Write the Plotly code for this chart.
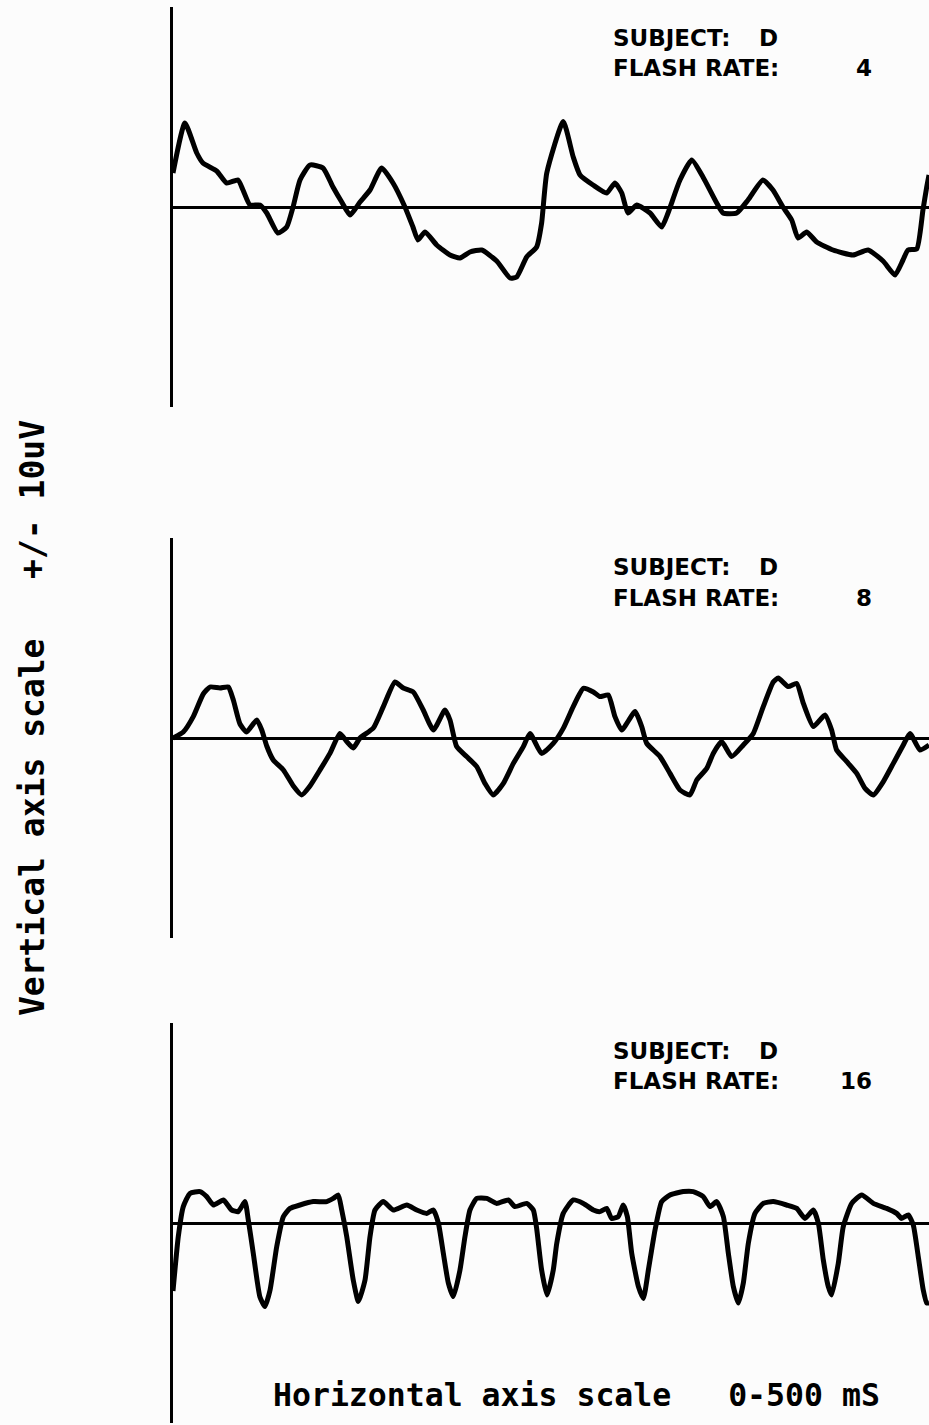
import plotly.graph_objects as go
from plotly.subplots import make_subplots

# ---------------- data (time in ms, amplitude in uV) ----------------
t_4hz = [0, 7.9, 15.7, 19.8, 28.9, 35.5, 43.0, 46.3, 50.9, 57.5, 62.0, 69.4, 75.2, 79.4,
         84.0, 90.6, 99.2, 105.8, 111.6, 117.1, 123.7, 130.3, 138.0, 145.5, 153.4, 158.7,
         162.0, 166.7, 174.4, 183.2, 189.8, 196.4, 204.2, 214.1, 222.9, 227.3, 233.9, 240.5,
         243.8, 247.2, 258.1, 264.7, 269.2, 277.8, 286.8, 292.3, 296.8, 300.9, 306.7, 315.5,
         323.2, 327.4, 335.3, 343.1, 350.5, 359.6, 363.8, 372.8, 380.3, 390.2, 396.8, 403.4,
         409.2, 413.4, 419.1, 425.7, 436.5, 449.7, 459.7, 469.6, 477.5, 482.8, 486.1, 491.9,
         496.0, 498.5, 500]
v_4hz = [1.7, 4.2, 2.7, 2.2, 1.8, 1.2, 1.35, 0.85, 0.1, 0.1, -0.3, -1.3, -1.0, 0.0,
         1.35, 2.1, 1.95, 1.0, 0.25, -0.4, 0.25, 0.85, 1.95, 1.2, 0.0, -1.0,
         -1.65, -1.25, -1.9, -2.4, -2.55, -2.25, -2.15, -2.7, -3.55, -3.5, -2.5, -2.0,
         -0.8, 1.7, 4.27, 2.5, 1.6, 1.1, 0.7, 1.2, 0.7, -0.3, 0.1, -0.3,
         -1.0, -0.3, 1.35, 2.35, 1.5, 0.2, -0.3, -0.3, 0.35, 1.35, 0.85, 0.0,
         -0.65, -1.55, -1.25, -1.75, -2.15, -2.4, -2.15, -2.7, -3.4, -2.65, -2.15, -2.1,
         -0.15, 1.0, 1.6]

t_8hz = [0, 6.8, 13.4, 20.0, 24.5, 31.1, 36.6, 39.9, 44.3, 48.7, 55.4, 58.7, 62.0, 66.3,
         73.0, 79.6, 85.1, 90.6, 97.2, 103.8, 110.4, 114.9, 119.2, 123.7, 132.5, 139.1,
         146.8, 152.3, 158.9, 165.5, 172.2, 179.9, 183.2, 187.6, 194.2, 200.9, 206.3, 211.8,
         218.5, 225.1, 231.7, 236.1, 243.8, 251.5, 258.1, 264.7, 271.4, 278.0, 282.4, 287.9,
         292.3, 296.8, 305.6, 310.0, 313.3, 322.1, 328.7, 335.3, 341.9, 346.4, 353.0, 357.3,
         362.9, 369.5, 377.2, 383.8, 390.4, 397.0, 400.3, 406.9, 412.5, 416.9, 423.5, 431.2,
         435.6, 438.9, 445.6, 452.2, 457.7, 463.2, 469.8, 476.4, 483.0, 487.4, 494.0, 500]
v_8hz = [0.0, 0.3, 1.07, 2.2, 2.55, 2.5, 2.55, 1.9, 0.7, 0.3, 0.9, 0.4, -0.4, -1.1,
         -1.6, -2.4, -2.85, -2.4, -1.6, -0.77, 0.23, -0.18, -0.5, 0.0, 0.5, 1.57,
         2.8, 2.5, 2.3, 1.4, 0.4, 1.4, 0.9, -0.43, -0.93, -1.43, -2.27, -2.85,
         -2.27, -1.27, -0.43, 0.23, -0.77, -0.27, 0.48, 1.57, 2.48, 2.3, 2.07, 2.15,
         1.07, 0.4, 1.32, 0.57, -0.27, -0.93, -1.77, -2.6, -2.85, -2.1, -1.52, -0.77,
         -0.18, -0.93, -0.35, 0.23, 1.57, 2.8, 3.0, 2.57, 2.73, 1.73, 0.57, 1.15,
         0.4, -0.6, -1.18, -1.77, -2.52, -2.85, -2.18, -1.27, -0.35, 0.23, -0.6, -0.35]

t_16hz = [0, 3.5, 6.8, 11.2, 17.9, 22.3, 26.7, 33.3, 38.8, 43.2, 47.6, 49.8, 53.1, 57.5,
          60.8, 64.2, 68.6, 73.0, 77.4, 84.0, 92.8, 101.7, 106.0, 109.3, 111.6, 114.9,
          119.2, 122.6, 127.0, 130.3, 133.6, 139.1, 145.7, 154.6, 161.2, 167.8, 172.2, 175.5,
          178.8, 182.1, 185.4, 189.8, 193.1, 196.4, 200.9, 207.5, 214.1, 221.8, 226.2, 233.9,
          238.3, 240.5, 243.8, 247.4, 251.5, 253.8, 258.1, 264.7, 271.4, 278.0, 282.4, 286.8,
          290.1, 294.5, 297.8, 300.5, 303.4, 307.8, 311.1, 314.4, 318.8, 323.2, 328.7, 337.5,
          344.1, 350.7, 355.2, 359.6, 364.0, 367.3, 370.6, 373.9, 377.2, 380.5, 384.9, 390.4,
          397.0, 405.8, 412.5, 418.0, 423.5, 426.8, 430.1, 433.4, 435.6, 440.0, 443.3, 448.9,
          455.5, 463.2, 472.0, 478.6, 481.9, 486.3, 489.6, 492.9, 496.2, 498.5, 500]
v_16hz = [-3.4, -0.68, 0.82, 1.48, 1.57, 1.32, 0.9, 1.15, 0.65, 0.57, 1.07, 0.15, -1.52, -3.7,
          -4.18, -3.35, -1.18, 0.32, 0.73, 0.9, 1.07, 1.07, 1.23, 1.4, 0.65, -0.68,
          -2.85, -3.93, -2.85, -0.68, 0.65, 1.07, 0.65, 0.9, 0.65, 0.48, 0.65, 0.0,
          -1.52, -3.0, -3.68, -2.35, -0.68, 0.65, 1.23, 1.23, 0.98, 1.15, 0.82, 0.98,
          0.65, -0.27, -2.35, -3.6, -2.35, -1.02, 0.48, 1.15, 0.98, 0.65, 0.57, 0.73,
          0.23, 0.32, 0.9, 0.32, -1.52, -3.18, -3.77, -2.35, -0.35, 1.07, 1.4, 1.57,
          1.57, 1.32, 0.82, 1.07, 0.32, -1.52, -3.18, -4.0, -3.0, -1.02, 0.48, 0.98,
          1.07, 0.9, 0.73, 0.23, 0.65, 0.0, -1.85, -3.18, -3.6, -2.02, -0.18, 0.98,
          1.4, 0.98, 0.73, 0.48, 0.23, 0.4, -0.1, -1.68, -3.35, -4.0, -4.0]

subject = "D"
flash_rates = ["4", "8", "16"]
series_t = [t_4hz, t_8hz, t_16hz]
series_v = [v_4hz, v_8hz, v_16hz]

# ---------------- layout helpers ----------------
W, H = 929, 1425
BG = "#fcfcfc"
# panel extents in pixels (top, bottom) of the vertical axis line
panels_px = [(7, 407), (538, 938), (1023, 1423)]
x_left_px = 173


def py(p):
    return (H - p) / H


def px(p):
    return p / W


fig = make_subplots(rows=3, cols=1)

for i, (t, v) in enumerate(zip(series_t, series_v)):
    fig.add_trace(
        go.Scatter(x=t, y=v, mode="lines",
                   line=dict(color="black", width=5, shape="spline", smoothing=0.5),
                   hoverinfo="skip", showlegend=False),
        row=i + 1, col=1)

for i, (top, bot) in enumerate(panels_px):
    xa = "xaxis" if i == 0 else f"xaxis{i+1}"
    ya = "yaxis" if i == 0 else f"yaxis{i+1}"
    fig.layout[xa].update(domain=[px(x_left_px), 1], range=[0, 500], showgrid=False,
                          zeroline=False, showline=False, showticklabels=False, ticks="")
    fig.layout[ya].update(domain=[py(bot), py(top)], range=[-10, 10], showgrid=False,
                          zeroline=True, zerolinecolor="black", zerolinewidth=3,
                          showline=True, linecolor="black", linewidth=3,
                          showticklabels=False, ticks="")

# panel labels
label_rows = [(38, 68), (567, 598), (1051, 1081)]
lab_font = dict(family="DejaVu Sans", size=23, color="black", weight="bold")
for (y1, y2), rate in zip(label_rows, flash_rates):
    fig.add_annotation(x=px(611), y=py(y1), xref="paper", yref="paper", text="SUBJECT:",
                       showarrow=False, xanchor="left", yanchor="middle", font=lab_font)
    fig.add_annotation(x=px(757), y=py(y1), xref="paper", yref="paper", text=subject,
                       showarrow=False, xanchor="left", yanchor="middle", font=lab_font)
    fig.add_annotation(x=px(611), y=py(y2), xref="paper", yref="paper", text="FLASH RATE:",
                       showarrow=False, xanchor="left", yanchor="middle", font=lab_font)
    fig.add_annotation(x=px(874), y=py(y2), xref="paper", yref="paper", text=rate,
                       showarrow=False, xanchor="right", yanchor="middle", font=lab_font)

fig.add_annotation(x=px(32), y=py(718), xref="paper", yref="paper",
                   text="Vertical axis scale\u00a0\u00a0\u00a0+/- 10uV",
                   textangle=-90, showarrow=False, xanchor="center", yanchor="middle",
                   font=dict(family="DejaVu Sans Mono", size=33, color="black", weight="bold"))
fig.add_annotation(x=px(576), y=py(1395), xref="paper", yref="paper",
                   text="Horizontal axis scale\u00a0\u00a0\u00a00-500 mS",
                   showarrow=False, xanchor="center", yanchor="middle",
                   font=dict(family="DejaVu Sans Mono", size=31.5, color="black", weight="bold"))

fig.update_layout(width=W, height=H, margin=dict(l=0, r=0, t=0, b=0),
                  paper_bgcolor=BG, plot_bgcolor=BG, showlegend=False)

fig.write_html("out.html")
